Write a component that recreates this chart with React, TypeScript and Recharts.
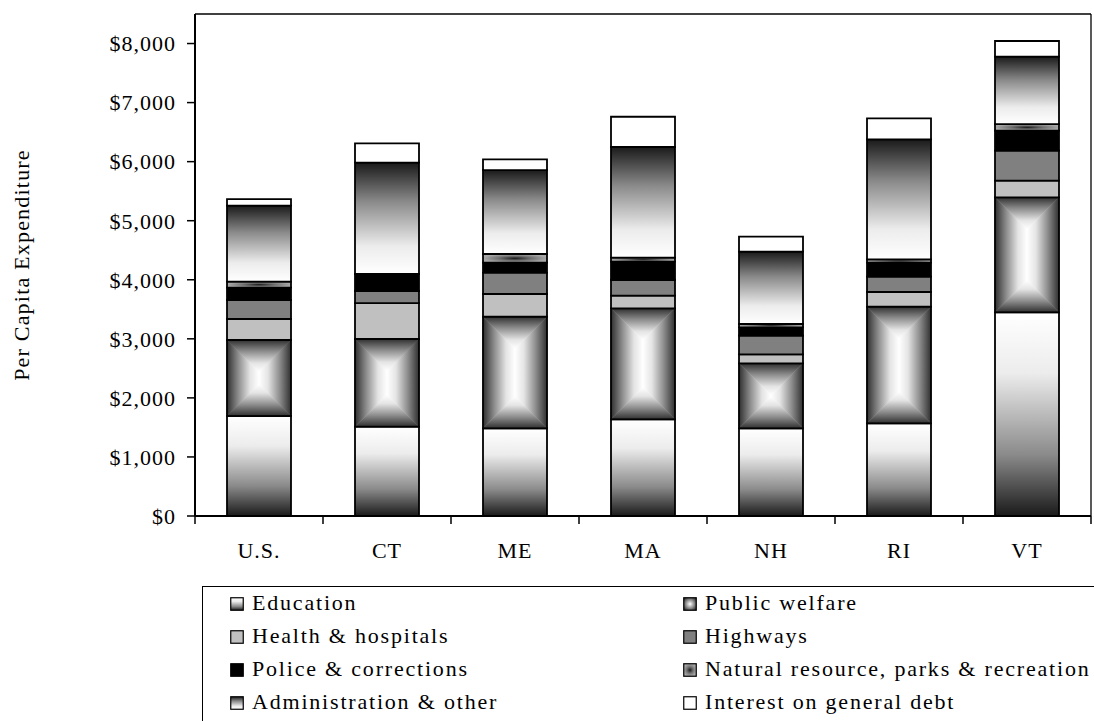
import React from 'react';
import { BarChart, Bar, XAxis, YAxis, Legend } from 'recharts';

const states = ['U.S.', 'CT', 'ME', 'MA', 'NH', 'RI', 'VT'];
const education = [1693, 1512, 1484, 1637, 1484, 1569, 3449];
const publicWelfare = [1287, 1485, 1891, 1879, 1101, 1975, 1947];
const health = [356, 609, 384, 214, 152, 249, 281];
const highways = [321, 204, 361, 266, 316, 259, 508];
const police = [209, 288, 169, 310, 141, 237, 339];
const naturalRes = [101, 0, 147, 68, 57, 57, 113];
const admin = [1287, 1884, 1422, 1874, 1225, 2032, 1140];
const interest = [113, 328, 182, 512, 254, 355, 266];
const yTicks = [0, 1000, 2000, 3000, 4000, 5000, 6000, 7000, 8000];

const data = states.map((state, i) => ({
  state,
  education: education[i],
  publicWelfare: publicWelfare[i],
  health: health[i],
  highways: highways[i],
  police: police[i],
  naturalRes: naturalRes[i],
  admin: admin[i],
  interest: interest[i],
}));

const series = [
  { key: 'education', name: 'Education', fill: 'url(#gEdu)', swatch: 'url(#gEdu)' },
  { key: 'publicWelfare', name: 'Public welfare', fill: 'pw', swatch: 'url(#gPwSwatch)' },
  { key: 'health', name: 'Health & hospitals', fill: '#C0C0C0', swatch: '#C0C0C0' },
  { key: 'highways', name: 'Highways', fill: '#808080', swatch: '#808080' },
  { key: 'police', name: 'Police & corrections', fill: '#000000', swatch: '#000000' },
  { key: 'naturalRes', name: 'Natural resource, parks & recreation', fill: 'url(#gNat)', swatch: 'url(#gNat)' },
  { key: 'admin', name: 'Administration & other', fill: 'url(#gAdm)', swatch: 'url(#gAdm)' },
  { key: 'interest', name: 'Interest on general debt', fill: '#FFFFFF', swatch: '#FFFFFF' },
];

const W = 1094;
const H = 721;
const MARGIN = { top: 13, right: 2, bottom: 145, left: 0 };
const Y_W = 195;
const X_H = 60;
const BAND = (W - MARGIN.left - MARGIN.right - Y_W - 1) / states.length;
const FONT = '"Liberation Serif", "Times New Roman", serif';

// rectangular "from centre" gradient, built from four pieces
const WelfareShape = (props: any) => {
  const { x, y, width: w, height: h } = props;
  if (!w || !h) return null;
  const cx = x + w / 2;
  const cy = y + h / 2;
  const d = Math.min(w, h) / 2;
  let top, bottom, left, right;
  if (h >= w) {
    const y1 = y + d;
    const y2 = y + h - d;
    top = `${x},${y} ${x + w},${y} ${cx},${y1}`;
    bottom = `${x},${y + h} ${x + w},${y + h} ${cx},${y2}`;
    left = `${x},${y} ${cx},${y1} ${cx},${y2} ${x},${y + h}`;
    right = `${x + w},${y} ${cx},${y1} ${cx},${y2} ${x + w},${y + h}`;
  } else {
    const x1 = x + d;
    const x2 = x + w - d;
    top = `${x},${y} ${x + w},${y} ${x2},${cy} ${x1},${cy}`;
    bottom = `${x},${y + h} ${x + w},${y + h} ${x2},${cy} ${x1},${cy}`;
    left = `${x},${y} ${x1},${cy} ${x},${y + h}`;
    right = `${x + w},${y} ${x2},${cy} ${x + w},${y + h}`;
  }
  return (
    <g>
      <polygon points={top} fill="url(#gPwDown)" stroke="url(#gPwDown)" strokeWidth={0.6} />
      <polygon points={bottom} fill="url(#gPwUp)" stroke="url(#gPwUp)" strokeWidth={0.6} />
      <polygon points={left} fill="url(#gPwRight)" stroke="url(#gPwRight)" strokeWidth={0.6} />
      <polygon points={right} fill="url(#gPwLeft)" stroke="url(#gPwLeft)" strokeWidth={0.6} />
      <rect x={x} y={y} width={w} height={h} fill="none" stroke="#000" strokeWidth={1.8} />
    </g>
  );
};

const StateTick = (props: any) => {
  const { x, y, payload, index } = props;
  return (
    <g>
      <line x1={x + BAND / 2} x2={x + BAND / 2} y1={y} y2={y + 8} stroke="#000" strokeWidth={1.5} />
      {index === 0 && <line x1={x - BAND / 2} x2={x - BAND / 2} y1={y} y2={y + 8} stroke="#000" strokeWidth={1.5} />}
      <text x={x} y={y + 42} textAnchor="middle" fill="#000" style={{ fontFamily: FONT, fontSize: 22, letterSpacing: 1 }}>
        {payload.value}
      </text>
    </g>
  );
};

const YTitle = (props: any) => {
  const { viewBox } = props;
  const cy = viewBox.y + viewBox.height / 2;
  const cx = 28.5;
  return (
    <text x={cx} y={cy} transform={`rotate(-90 ${cx} ${cy})`} textAnchor="middle" fill="#000"
      style={{ fontFamily: FONT, fontSize: 22, letterSpacing: 1.2 }}>
      Per Capita Expenditure
    </text>
  );
};

const renderLegend = () => (
  <div style={{
    position: 'relative', width: 1000, height: 160, border: '1.5px solid #000', boxSizing: 'border-box',
    fontFamily: FONT, fontSize: 22, letterSpacing: 1.8, color: '#000',
  }}>
    {series.map((s, i) => (
      <div key={s.key} style={{
        position: 'absolute', left: 27, top: 4 + Math.floor(i / 2) * 33,
        marginLeft: i % 2 === 0 ? 0 : 453,
        display: 'flex', alignItems: 'center', whiteSpace: 'nowrap', lineHeight: '24px',
      }}>
        <svg width={14} height={14} style={{ marginRight: 8, marginTop: 2 }}>
          <rect x={0.75} y={0.75} width={12.5} height={12.5} fill={s.swatch} stroke="#000" strokeWidth={1.2} />
        </svg>
        <span>{s.name}</span>
      </div>
    ))}
  </div>
);

const App: React.FC = () => {
  return (
    <div style={{ position: 'absolute', left: 0, top: 0, width: W, height: H, overflow: 'hidden', background: '#fff' }}>
      <BarChart width={W} height={H} data={data} margin={MARGIN} barCategoryGap="25%">
        <defs>
          <linearGradient id="gEdu" x1="0" y1="0" x2="0" y2="1">
            <stop offset="0" stopColor="#ffffff" />
            <stop offset="0.3" stopColor="#ececec" />
            <stop offset="0.7" stopColor="#8a8a8a" />
            <stop offset="1" stopColor="#1a1a1a" />
          </linearGradient>
          <linearGradient id="gAdm" x1="0" y1="0" x2="0" y2="1">
            <stop offset="0" stopColor="#1a1a1a" />
            <stop offset="0.35" stopColor="#8a8a8a" />
            <stop offset="0.75" stopColor="#ececec" />
            <stop offset="1" stopColor="#ffffff" />
          </linearGradient>
          <radialGradient id="gNat" cx="0.5" cy="0.5" r="0.5">
            <stop offset="0" stopColor="#1a1a1a" />
            <stop offset="0.5" stopColor="#707070" />
            <stop offset="1" stopColor="#a8a8a8" />
          </radialGradient>
          <radialGradient id="gPwSwatch" cx="0.5" cy="0.5" r="0.6">
            <stop offset="0" stopColor="#ffffff" />
            <stop offset="1" stopColor="#333333" />
          </radialGradient>
          <linearGradient id="gPwDown" x1="0" y1="0" x2="0" y2="1">
            <stop offset="0" stopColor="#303030" />
            <stop offset="0.35" stopColor="#8c8c8c" />
            <stop offset="0.72" stopColor="#e4e4e4" />
            <stop offset="1" stopColor="#ffffff" />
          </linearGradient>
          <linearGradient id="gPwUp" x1="0" y1="1" x2="0" y2="0">
            <stop offset="0" stopColor="#303030" />
            <stop offset="0.35" stopColor="#8c8c8c" />
            <stop offset="0.72" stopColor="#e4e4e4" />
            <stop offset="1" stopColor="#ffffff" />
          </linearGradient>
          <linearGradient id="gPwRight" x1="0" y1="0" x2="1" y2="0">
            <stop offset="0" stopColor="#303030" />
            <stop offset="0.35" stopColor="#8c8c8c" />
            <stop offset="0.72" stopColor="#e4e4e4" />
            <stop offset="1" stopColor="#ffffff" />
          </linearGradient>
          <linearGradient id="gPwLeft" x1="1" y1="0" x2="0" y2="0">
            <stop offset="0" stopColor="#303030" />
            <stop offset="0.35" stopColor="#8c8c8c" />
            <stop offset="0.72" stopColor="#e4e4e4" />
            <stop offset="1" stopColor="#ffffff" />
          </linearGradient>
        </defs>
        <XAxis
          dataKey="state"
          height={X_H}
          tickSize={0}
          tickMargin={0}
          tickLine={false}
          axisLine={{ stroke: '#000', strokeWidth: 2 }}
          tick={<StateTick />}
          interval={0}
        />
        <XAxis xAxisId="top" dataKey="state" orientation="top" height={1} tick={false} tickLine={false}
          axisLine={{ stroke: '#000', strokeWidth: 1.3 }} />
        <YAxis
          width={Y_W}
          domain={[0, 8500]}
          ticks={yTicks}
          tickSize={8}
          tickMargin={11}
          tickLine={{ stroke: '#000', strokeWidth: 1.5 }}
          axisLine={{ stroke: '#000', strokeWidth: 2 }}
          tick={{ fill: '#000', fontSize: 22, fontFamily: FONT, letterSpacing: 1 }}
          tickFormatter={(v: number) => `$${v.toLocaleString('en-US')}`}
          label={{ content: <YTitle /> }}
        />
        <YAxis yAxisId="right" orientation="right" width={1} domain={[0, 8500]} tick={false} tickLine={false}
          axisLine={{ stroke: '#000', strokeWidth: 1.3 }} />
        {series.map((s) => (
          <Bar
            key={s.key}
            dataKey={s.key}
            name={s.name}
            stackId="a"
            fill={s.fill === 'pw' ? '#999' : s.fill}
            stroke="#000"
            strokeWidth={1.8}
            shape={s.fill === 'pw' ? <WelfareShape /> : undefined}
            isAnimationActive={false}
          />
        ))}
        <Legend
          layout="horizontal"
          verticalAlign="middle"
          align="center"
          content={renderLegend}
          wrapperStyle={{ position: 'absolute', left: 202, top: 586, width: 1000, height: 160 }}
        />
      </BarChart>
    </div>
  );
};

export default App;
